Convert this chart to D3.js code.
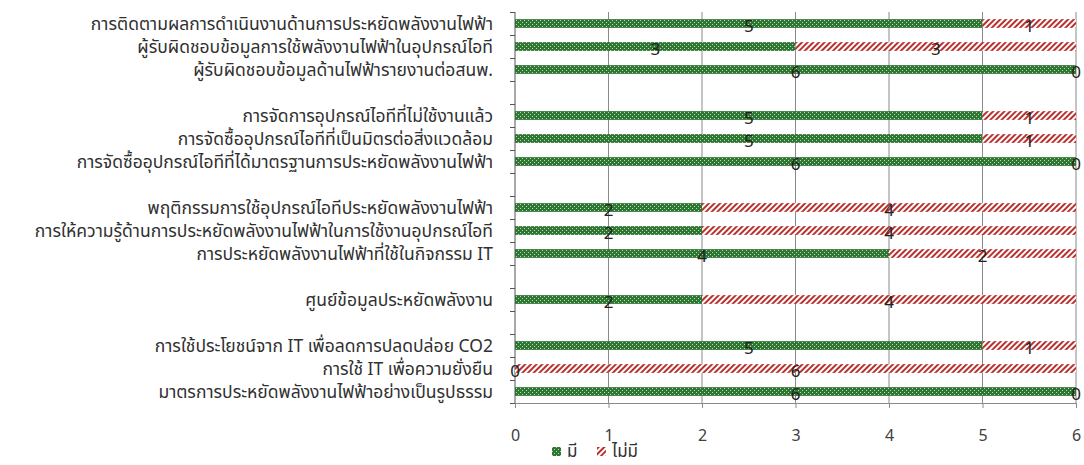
<!DOCTYPE html>
<html>
<head>
<meta charset="utf-8">
<script src="https://cdn.jsdelivr.net/npm/d3@7/dist/d3.min.js"></script>
<style>
  body { margin: 0; background: #fff; }
  text { font-family: Tahoma, "Noto Sans Thai", "DejaVu Sans", "Noto Sans", sans-serif; }
</style>
</head>
<body>
<div id="chart"></div>
<script>
// categories top to bottom, "" = empty spacer row
var categories = [
    "การติดตามผลการดำเนินงานด้านการประหยัดพลังงานไฟฟ้า",
    "ผู้รับผิดชอบข้อมูลการใช้พลังงานไฟฟ้าในอุปกรณ์ไอที",
    "ผู้รับผิดชอบข้อมูลด้านไฟฟ้ารายงานต่อสนพ.",
    "",
    "การจัดการอุปกรณ์ไอทีที่ไม่ใช้งานแล้ว",
    "การจัดซื้ออุปกรณ์ไอทีที่เป็นมิตรต่อสิ่งแวดล้อม",
    "การจัดซื้ออุปกรณ์ไอทีที่ได้มาตรฐานการประหยัดพลังงานไฟฟ้า",
    "",
    "พฤติกรรมการใช้อุปกรณ์ไอทีประหยัดพลังงานไฟฟ้า",
    "การให้ความรู้ด้านการประหยัดพลังงานไฟฟ้าในการใช้งานอุปกรณ์ไอที",
    "การประหยัดพลังงานไฟฟ้าที่ใช้ในกิจกรรม IT",
    "",
    "ศูนย์ข้อมูลประหยัดพลังงาน",
    "",
    "การใช้ประโยชน์จาก IT เพื่อลดการปลดปล่อย CO2",
    "การใช้ IT เพื่อความยั่งยืน",
    "มาตรการประหยัดพลังงานไฟฟ้าอย่างเป็นรูปธรรม"
];
var haveValues    = [5, 3, 6, null, 5, 5, 6, null, 2, 2, 4, null, 2, null, 5, 0, 6];
var haveNotValues = [1, 3, 0, null, 1, 1, 0, null, 4, 4, 2, null, 4, null, 1, 6, 0];
var xTicks = [0, 1, 2, 3, 4, 5, 6];
var seriesNames = ["มี", "ไม่มี"];

function init() {
    var w = 1084, h = 465;
    var left = 515, right = 1076, top = 12, bottom = 403;

    var svg = d3.select("#chart").append("svg")
        .attr("width", w).attr("height", h);

    // patterns
    var defs = svg.append("defs");
    var pg = defs.append("pattern").attr("id", "pGreen")
        .attr("width", 4).attr("height", 4).attr("patternUnits", "userSpaceOnUse");
    pg.append("rect").attr("width", 4).attr("height", 4).attr("fill", "#2f7534");
    pg.append("rect").attr("x", 0).attr("y", 0).attr("width", 1).attr("height", 1).attr("fill", "#b8dcb0");
    pg.append("rect").attr("x", 2).attr("y", 2).attr("width", 1).attr("height", 1).attr("fill", "#b8dcb0");

    var pr = defs.append("pattern").attr("id", "pRed")
        .attr("width", 4).attr("height", 4).attr("patternUnits", "userSpaceOnUse")
        .attr("patternTransform", "rotate(45)");
    pr.append("rect").attr("width", 4).attr("height", 4).attr("fill", "#fff");
    pr.append("rect").attr("width", 2).attr("height", 4).attr("fill", "#b8312f");

    var x = d3.scaleLinear().domain([0, 6]).range([left, right]);
    var y = d3.scaleBand().domain(d3.range(categories.length)).range([top, bottom]).padding(0);
    var yIdx = d3.scaleLinear().domain([0, categories.length]).range([top, bottom]);

    // vertical gridlines
    svg.append("g").selectAll("line")
        .data(xTicks.slice(1))
        .enter().append("line")
        .attr("x1", function(d) { return x(d); })
        .attr("x2", function(d) { return x(d); })
        .attr("y1", top).attr("y2", bottom)
        .attr("stroke", "#8a8a8a").attr("stroke-width", 1);

    // x axis
    var xAxis = d3.axisBottom(x).tickValues(xTicks).tickFormat(d3.format("d"))
        .tickSize(5).tickPadding(22);
    var gx = svg.append("g").attr("transform", "translate(0," + bottom + ")").call(xAxis);
    gx.select(".domain").attr("stroke", "#8a8a8a");
    gx.selectAll(".tick line").attr("stroke", "#8a8a8a");
    gx.selectAll(".tick text").attr("font-size", 16).attr("fill", "#404040");

    // y axis (ticks between categories)
    var yAxis = d3.axisLeft(yIdx).tickValues(d3.range(categories.length + 1))
        .tickFormat("").tickSize(5);
    var gy = svg.append("g").attr("transform", "translate(" + left + ",0)").call(yAxis);
    gy.select(".domain").attr("stroke", "#555").attr("d", "M0," + top + "V" + bottom);
    gy.selectAll(".tick line").attr("stroke", "#555");

    // category labels
    svg.append("g").selectAll("text")
        .data(categories)
        .enter().append("text")
        .attr("x", left - 22)
        .attr("y", function(d, i) { return y(i) + y.bandwidth() / 2; })
        .attr("dy", "0.35em")
        .attr("text-anchor", "end")
        .attr("font-size", 17.5)
        .attr("fill", "#303030")
        .text(function(d) { return d; });

    var barH = y.bandwidth() * 0.38;
    var rows = categories.map(function(c, i) {
        return { i: i, have: haveValues[i], not: haveNotValues[i] };
    }).filter(function(d) { return d.have !== null; });

    // bars
    svg.append("g").selectAll("rect")
        .data(rows)
        .enter().append("rect")
        .attr("x", x(0))
        .attr("y", function(d) { return y(d.i) + (y.bandwidth() - barH) / 2; })
        .attr("width", function(d) { return x(d.have) - x(0); })
        .attr("height", barH)
        .attr("fill", "url(#pGreen)");

    svg.append("g").selectAll("rect")
        .data(rows)
        .enter().append("rect")
        .attr("x", function(d) { return x(d.have); })
        .attr("y", function(d) { return y(d.i) + (y.bandwidth() - barH) / 2; })
        .attr("width", function(d) { return x(d.have + d.not) - x(d.have); })
        .attr("height", barH)
        .attr("fill", "url(#pRed)");

    // data labels
    var labels = [];
    rows.forEach(function(d) {
        labels.push({ v: d.have, pos: d.have / 2, i: d.i });
        labels.push({ v: d.not, pos: d.have + d.not / 2, i: d.i });
    });
    svg.append("g").selectAll("text")
        .data(labels)
        .enter().append("text")
        .attr("x", function(d) { return x(d.pos); })
        .attr("y", function(d) { return y(d.i) + y.bandwidth() / 2 + 3; })
        .attr("dy", "0.35em")
        .attr("text-anchor", "middle")
        .attr("font-size", 17)
        .attr("fill", "#222")
        .text(function(d) { return d.v; });

    // legend
    var legend = svg.append("g").attr("transform", "translate(552,447)");
    var fills = ["url(#pGreen)", "url(#pRed)"];
    var offs = [0, 45];
    seriesNames.forEach(function(name, k) {
        legend.append("rect").attr("x", offs[k]).attr("y", 0)
            .attr("width", 9).attr("height", 9).attr("fill", fills[k]);
        legend.append("text").attr("x", offs[k] + 15).attr("y", 4)
            .attr("dy", "0.35em").attr("font-size", 17).attr("fill", "#303030")
            .text(name);
    });
}

window.onload = init;
</script>
</body>
</html>
